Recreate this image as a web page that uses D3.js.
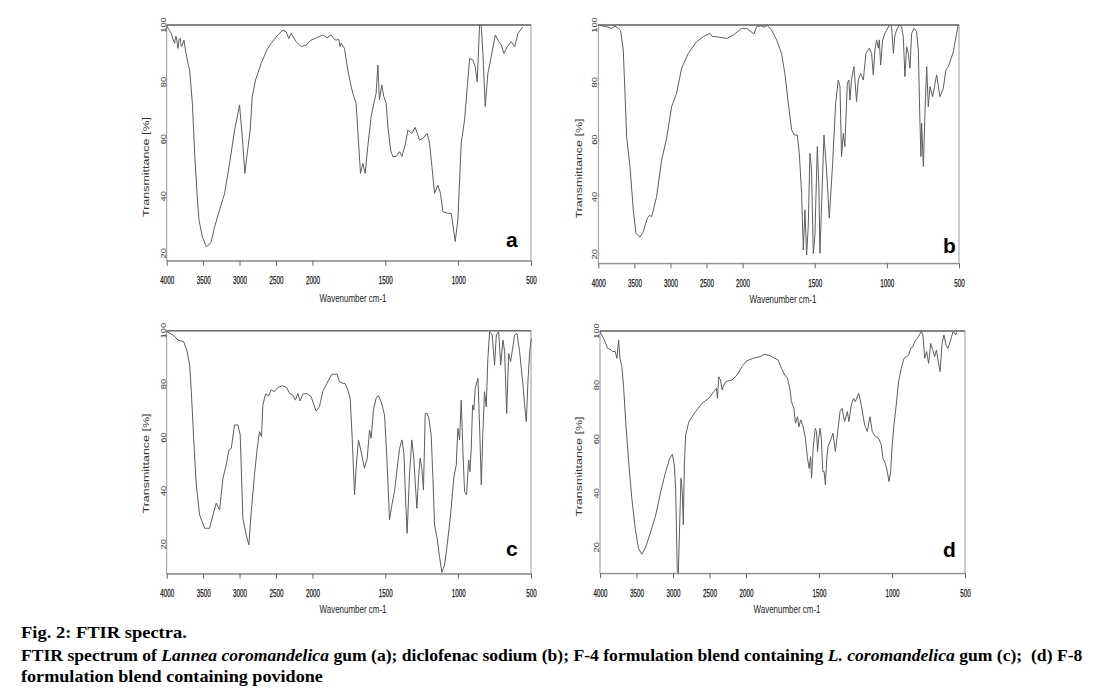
<!DOCTYPE html>
<html><head><meta charset="utf-8">
<script src="https://cdn.jsdelivr.net/npm/d3@7"></script>
<style>body{margin:0;background:#fff} svg{display:block}</style>
</head><body>
<svg id="chart" width="1105" height="690"></svg>
<script>
// ---------- data ----------
const xTicks = [4000,3500,3000,2500,2000,1500,1000,500];
const yTicks = [20,40,60,80,100];
const panelLetters = ["a","b","c","d"];
const xTitle = "Wavenumber cm-1";
const yTitle = "Transmittance [%]";

// [wavenumber, transmittance %]
const specA = [[4000,100],[3995,99.4],[3960,98],[3936,97],[3915,95],[3890,93.6],[3880,96],[3868,95.9],[3845,91.8],[3830,95],[3813,95.3],[3800,92.5],[3785,93],[3763,94.7],[3740,90.7],[3708,86.6],[3685,84.2],[3648,72.6],[3616,55],[3584,41],[3557,31.7],[3511,25.8],[3457,22.3],[3420,23],[3388,24.1],[3342,29.3],[3274,35.2],[3205,41],[3137,51.5],[3068,63.2],[3000,72],[2963,60.9],[2927,48],[2900,53.9],[2854,63.2],[2826,74.9],[2781,80.7],[2703,86.6],[2626,91.2],[2566,93.6],[2475,96.5],[2406,98.2],[2361,97.6],[2324,95.3],[2292,97],[2224,94.2],[2155,92.4],[2087,93],[2018,94.7],[1973,95.5],[1929,96.5],[1900,95.5],[1872,96.5],[1850,95],[1837,94.7],[1820,95],[1810,92.5],[1803,93.6],[1780,91.8],[1757,84.2],[1734,78.4],[1716,74.9],[1700,72.6],[1689,63.2],[1670,48],[1654,51.5],[1638,48],[1620,57.4],[1597,67.9],[1574,73.7],[1563,76],[1551,86],[1540,73.7],[1524,79],[1510,74.9],[1494,72.6],[1482,64.4],[1464,56.2],[1448,53.9],[1425,53.9],[1402,55.6],[1386,53.9],[1363,58],[1345,63.2],[1318,62],[1295,64.1],[1265,59.7],[1242,60.3],[1212,62],[1196,58.5],[1180,50.4],[1162,41],[1139,43.9],[1121,41],[1105,34.6],[1070,34],[1047,34],[1020,24.1],[1002,31.7],[979,58.5],[956,66.7],[937,78.4],[921,88.3],[899,87.7],[883,85.4],[869,80.1],[853,100],[842,100],[830,90],[814,71.4],[796,83],[773,88.9],[745,96.5],[727,94.7],[704,93],[686,90],[663,92.4],[635,94.2],[612,92.4],[590,97],[555,99.4]];

const specB = [[4000,100],[3885,99.4],[3815,98.8],[3769,99.6],[3723,98.8],[3691,98],[3654,91.3],[3630,76.2],[3607,61],[3561,50.6],[3515,35.5],[3478,27.3],[3423,26],[3376,27.9],[3321,32.6],[3290,33.6],[3261,33.1],[3192,40.1],[3122,52.9],[3053,60.5],[2984,71.5],[2915,76.2],[2845,84.9],[2753,90.1],[2637,94.2],[2545,95.9],[2453,97.1],[2420,96],[2360,95.9],[2222,95.3],[2129,96.5],[2014,98.8],[1972,98.8],[1921,96.9],[1903,99.4],[1875,99.7],[1845,99.2],[1834,100],[1799,98.3],[1764,94.8],[1730,90.1],[1707,83.1],[1683,72.7],[1660,63.4],[1642,61.6],[1621,61.6],[1607,55.2],[1591,41.3],[1579,21.5],[1568,35.5],[1556,19.8],[1545,29.7],[1533,55.2],[1522,49.4],[1510,20.3],[1499,26.2],[1482,57.6],[1471,43.6],[1464,20.3],[1452,37.8],[1436,61.6],[1418,49.4],[1399,32.6],[1376,51.7],[1355,72.7],[1337,80.8],[1325,78.5],[1314,54.1],[1302,62.2],[1291,57.6],[1274,79.7],[1263,80.8],[1256,73.8],[1244,81.4],[1228,85.5],[1210,73.3],[1198,80.8],[1182,83.1],[1163,80.8],[1145,90.1],[1122,91.9],[1106,90.1],[1094,82.6],[1083,91.3],[1071,94.8],[1059,91.9],[1052,94.8],[1043,86],[1029,94.8],[1013,97.1],[983,100],[967,99.4],[955,90.1],[944,96.5],[932,98.3],[914,100],[898,99.4],[886,95.9],[875,82],[863,92.4],[851,90.1],[840,84.9],[828,97.1],[812,98.8],[794,97.7],[782,91.3],[771,66.9],[764,54.1],[759,65.7],[747,50.6],[736,69.2],[724,85.5],[713,71.5],[701,78.5],[683,75],[655,82.6],[632,75],[609,77.9],[591,84.3],[574,85.5],[558,87.8],[539,90.7],[527,94.2],[512,98.3],[505,100]];

const specC = [[4000,100],[3995,99.6],[3913,98.4],[3845,96.5],[3767,95.9],[3721,92.4],[3685,87.1],[3662,77.2],[3630,59.7],[3594,42.2],[3548,31],[3479,26],[3411,26],[3365,31],[3320,35.4],[3274,32.9],[3228,44.7],[3183,49.7],[3146,55.3],[3114,55.9],[3068,64.7],[3023,64.7],[2991,60.9],[2954,29.7],[2909,23.5],[2872,19.8],[2840,32.2],[2795,46],[2758,55.9],[2726,62.2],[2699,60.3],[2680,72.2],[2644,76.2],[2598,75.7],[2566,77.8],[2521,77.2],[2475,78.7],[2406,79.4],[2352,78.7],[2315,76.5],[2269,75.9],[2233,74],[2201,76.5],[2169,73.7],[2132,76.2],[2078,76.5],[2018,75.3],[1975,69.9],[1952,71.5],[1929,77.2],[1895,80.9],[1867,83.7],[1831,83.7],[1815,80.9],[1792,80.3],[1776,80.3],[1757,77.8],[1741,74.7],[1728,60.9],[1711,38.5],[1700,48.5],[1684,59.1],[1666,54.7],[1643,48.5],[1624,52.2],[1608,62.8],[1597,59.7],[1581,70.3],[1563,74.7],[1547,75.7],[1528,73.4],[1505,68.4],[1489,52.2],[1471,29.1],[1455,34.7],[1437,39.7],[1418,48.5],[1402,55.9],[1386,59.1],[1372,54.1],[1361,37.2],[1350,24.1],[1334,46],[1318,59.1],[1304,52.2],[1295,43.5],[1283,33.5],[1272,44.7],[1261,52.2],[1249,48.5],[1238,40.3],[1226,69],[1212,69],[1201,67.2],[1185,60.9],[1173,44.7],[1162,27.2],[1144,22.2],[1128,15.4],[1112,9.5],[1093,12.3],[1075,19.8],[1052,31],[1029,45.3],[1013,49.7],[1002,63.4],[990,59.1],[979,74],[967,54.7],[956,39.7],[942,38.5],[928,51.6],[919,47.2],[910,55.9],[901,72.2],[892,70.3],[883,78.4],[864,82.2],[853,64.7],[841,42.2],[830,62.2],[819,77.2],[807,71.5],[796,89.6],[784,99.6],[766,98.4],[750,87.1],[738,98.4],[722,99.6],[708,87.1],[692,96.5],[681,92.1],[667,69],[653,91.5],[640,88.4],[626,93.4],[612,98.4],[596,99],[578,92.1],[555,79.7],[544,72.2],[532,65.9],[521,80.9],[509,92.1],[498,97.1]];

const specD = [[4000,99.8],[3941,96.7],[3895,93.6],[3864,93.3],[3827,92.4],[3791,92.4],[3768,89.9],[3745,96.7],[3727,89.9],[3700,86.8],[3677,79.4],[3645,65.2],[3600,49.2],[3564,38.1],[3518,27],[3473,19.6],[3427,17.4],[3373,20.2],[3305,25.8],[3236,32],[3168,40.6],[3100,48],[3045,52.9],[3009,54.4],[2982,50.4],[2964,41.8],[2941,11],[2927,10.4],[2909,28.3],[2891,45.5],[2873,40.6],[2859,28.3],[2845,50.4],[2827,61.5],[2782,66.5],[2691,70.2],[2600,73.3],[2509,75.1],[2441,77.6],[2405,78.8],[2391,75.1],[2373,83.1],[2350,81.9],[2327,78.2],[2305,80],[2273,81.3],[2191,81.9],[2123,83.7],[2055,86.8],[2018,88],[1998,88.9],[1952,89.9],[1906,90.5],[1872,91.4],[1837,90.9],[1803,89.9],[1780,89.3],[1757,86.2],[1734,83.7],[1716,82.5],[1700,78.8],[1689,73.9],[1672,71.4],[1661,65.9],[1647,68.3],[1638,64.6],[1625,67.1],[1609,64.6],[1593,60.3],[1579,52.9],[1567,49.2],[1558,53.5],[1551,45.5],[1540,56.6],[1526,64],[1517,62.8],[1510,55.4],[1502,60.3],[1493,64],[1484,60.3],[1474,48],[1465,48],[1456,43.1],[1447,52.9],[1438,57.2],[1420,59.7],[1404,62.2],[1388,55.4],[1369,64],[1356,70.2],[1342,71.4],[1324,66.5],[1306,70.2],[1295,66.5],[1279,72.6],[1263,75.1],[1251,73.9],[1228,76.9],[1210,72.6],[1199,68.9],[1187,65.2],[1169,62.8],[1151,68.3],[1135,62.8],[1114,60.9],[1091,60.3],[1073,57.8],[1062,52.9],[1046,51.1],[1032,48],[1021,44.3],[1009,48],[1000,56.6],[987,65.2],[971,72.6],[955,81.3],[936,86.2],[918,89.9],[902,90.5],[886,91.1],[872,93.6],[856,94.2],[845,96.1],[827,97.3],[799,99.8],[788,98.5],[776,89.9],[763,92.4],[749,88],[735,95.4],[721,93],[708,90.5],[696,93],[685,89.3],[671,85],[657,95.4],[644,98.5],[630,94.8],[616,93.6],[598,96.7],[582,99.8],[563,98.5],[559,99.5]];

// ---------- layout (positions only) ----------
const layout = [
  {data:specA, x0:166.7, x1:531, y100:25,    y20:253.3, ybot:260.7, lx:506, ly:247.3, ytx:149,   yty:167,   xtx:353, xty:301.5},
  {data:specB, x0:598.3, x1:959, y100:25,    y20:254.3, ybot:263.3, lx:943, ly:253,   ytx:581.5, yty:168.5, xtx:783, xty:303},
  {data:specC, x0:166.7, x1:531, y100:330.7, y20:544.3, ybot:573.7, lx:506, ly:556,   ytx:149,   yty:463.5, xtx:353, xty:613},
  {data:specD, x0:600,   x1:965, y100:331,   y20:547.3, ybot:573.3, lx:943, ly:557,   ytx:581.5, yty:466.5, xtx:787, xty:613}
];

const svg = d3.select("#chart");
const SANS = "'Liberation Sans', Arial, sans-serif";

layout.forEach((p, i) => {
  const x = d3.scaleLinear().domain([4000, 2000, 500])
      .range([p.x0, p.x0 + 0.4 * (p.x1 - p.x0), p.x1]);
  const y = d3.scaleLinear().domain([20, 100]).range([p.y20, p.y100]);
  const g = svg.append("g");

  // frame
  g.append("rect").attr("x", p.x0).attr("y", p.y100)
    .attr("width", p.x1 - p.x0).attr("height", p.ybot - p.y100)
    .attr("fill", "none").attr("stroke", "#999").attr("stroke-width", 1);
  g.append("line").attr("x1", p.x0).attr("x2", p.x1).attr("y1", y(100)).attr("y2", y(100))
    .attr("stroke", "#6e6e6e").attr("stroke-width", 1.6);

  // spectrum
  g.append("path").datum(p.data)
    .attr("d", d3.line().x(d => x(d[0])).y(d => y(d[1])))
    .attr("fill", "none").attr("stroke", "#5e5e5e").attr("stroke-width", 1)
    .attr("stroke-linejoin", "round");

  // x axis
  const ax = g.append("g").attr("transform", `translate(0,${p.ybot})`)
    .call(d3.axisBottom(x).tickValues(xTicks).tickSize(5).tickSizeOuter(0).tickPadding(11).tickFormat(d3.format("d")));
  ax.select(".domain").attr("stroke", "#8a8a8a");
  ax.selectAll(".tick line").attr("stroke", "#666");
  ax.selectAll(".tick text")
    .attr("font-family", SANS).attr("font-size", 10.5).attr("fill", "#111")
    .attr("stroke", "#111").attr("stroke-width", 0.25)
    .attr("textLength", d => String(d).length * 3.5).attr("lengthAdjust", "spacingAndGlyphs");

  // y tick labels (rotated, parallel to axis)
  g.selectAll(".ylab").data(yTicks).enter().append("text")
    .attr("transform", d => `translate(${p.x0 - 1},${y(d)}) rotate(-90)`)
    .attr("text-anchor", "middle")
    .attr("font-family", SANS).attr("font-size", 7).attr("fill", "#333")
    .attr("textLength", d => String(d).length * 5.2).attr("lengthAdjust", "spacingAndGlyphs")
    .text(d => d);

  // axis titles
  g.append("text").attr("transform", `translate(${p.ytx},${p.yty}) rotate(-90)`)
    .attr("text-anchor", "middle").attr("font-family", SANS).attr("font-size", 9)
    .attr("fill", "#333").attr("textLength", 100).attr("lengthAdjust", "spacingAndGlyphs")
    .text(yTitle);
  g.append("text").attr("x", p.xtx).attr("y", p.xty)
    .attr("text-anchor", "middle").attr("font-family", SANS).attr("font-size", 10.5)
    .attr("fill", "#222").attr("textLength", 67).attr("lengthAdjust", "spacingAndGlyphs")
    .text(xTitle);

  // panel letter
  g.append("text").attr("x", p.lx).attr("y", p.ly)
    .attr("font-family", SANS).attr("font-weight", "bold").attr("font-size", 21)
    .attr("fill", "#000").text(panelLetters[i]);
});

// ---------- caption ----------
const SERIF = "'Liberation Serif', 'Times New Roman', Times, serif";
const captionLines = [
  {x:21, y:638, w:166, parts:[["Fig. 2: FTIR spectra.", false]]},
  {x:21, y:661, w:1062, parts:[["FTIR spectrum of ", false], ["Lannea coromandelica", true], [" gum (a); diclofenac sodium (b); F-4 formulation blend containing ", false], ["L. coromandelica", true], [" gum (c);  (d) F-8", false]]},
  {x:21, y:682, w:302, parts:[["formulation blend containing povidone", false]]}
];
captionLines.forEach(l => {
  const t = svg.append("text").attr("font-family", SERIF).attr("font-weight", "bold")
    .attr("font-size", 17).attr("fill", "#000")
    .style("white-space", "pre");
  l.parts.forEach(pt => t.append("tspan").attr("font-style", pt[1] ? "italic" : "normal").text(pt[0]));
  const w = t.node().getComputedTextLength();
  t.attr("transform", `translate(${l.x},${l.y}) scale(${l.w / w},1)`);
});
</script>
</body></html>
